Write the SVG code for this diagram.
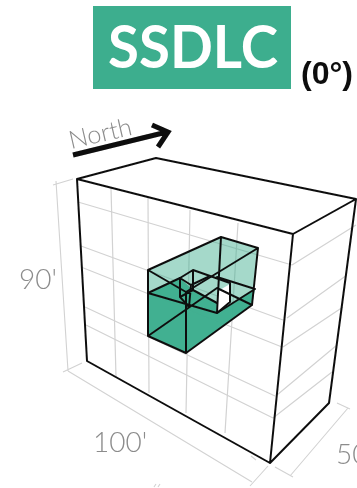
<svg xmlns="http://www.w3.org/2000/svg" width="357" height="488" viewBox="0 0 357 488">
<style>
.grid{fill:none;stroke:#d2d2d2;stroke-width:1.2}
.dim{fill:none;stroke:#d2d2d2;stroke-width:1.1}
.edge{fill:none;stroke:#111;stroke-width:2;stroke-linejoin:round;stroke-linecap:round}
.lab{font-family:"Lato","Open Sans",sans-serif;font-weight:300;fill:#8c8c8c}
</style>
<defs><filter id="soft" x="-5%" y="-5%" width="110%" height="110%"><feGaussianBlur stdDeviation="0.45"/></filter></defs>
<rect width="357" height="488" fill="#fff"/>
<g filter="url(#soft)">
<g id="title">
<rect x="93" y="6" width="198" height="83" fill="#3dae8e"/>
<text x="108" y="68" font-family="Lato,'Open Sans',sans-serif" font-size="59" font-weight="700" fill="#fff" textLength="170" lengthAdjust="spacingAndGlyphs">SSDLC</text>
<text x="301" y="84" font-family="'Liberation Sans',Arial,sans-serif" font-size="31" font-weight="700" fill="#111" textLength="52" lengthAdjust="spacingAndGlyphs">(0°)</text>
</g>
<g id="north">
<text class="lab" x="0" y="0" font-size="25" transform="translate(71,149) rotate(-13)" textLength="64" lengthAdjust="spacingAndGlyphs">North</text>
<path d="M73 155 L167 132 M152 125 L168 132 L158 147" fill="none" stroke="#0a0a0a" stroke-width="5" stroke-linejoin="miter"/>
</g>
<g id="grid">
<path class="grid" d="M111 188L116 377M148 198L149 393M190 210L186 413M238 223L225 433"/>
<path class="grid" d="M78 202L292 265M81 246L283 320M81 267L282 347M85 307L275 396M86 325L273 418"/>
<path class="grid" d="M292 265L356 225M287 318L347 275M283 347L343 307M277 395L337 345M273 418L332 372"/>
</g>
<g id="dimensions">
<path class="dim" d="M56 181L68 371M53 185L73 179M63 372L82 363"/>
<path class="dim" d="M68 371L252 482M250 486L268 466M251 456L256 460"/>
<path class="dim" d="M290 476L348 408M275 467L293 477M337 403L350 409"/>
<path class="dim" d="M154 487L156 484M158 487L160 484"/>
<text class="lab" x="19" y="289" font-size="28">90'</text>
<text class="lab" x="93" y="452" font-size="28">100'</text>
<text class="lab" x="336" y="464" font-size="28">50</text>
</g>
<g id="volume">
<path d="M148 270L221 237L258 248L252 305L186 353L148 336Z" fill="#3dae8e" fill-opacity=".47"/>
<path d="M148 293L180 278L193 290L217 303L217 313L255 289L252 305L186 353L148 336Z" fill="#3dae8e" fill-opacity=".95"/>
<path d="M218 291L230 284L229 303L218 311Z" fill="#fff"/>
</g>
<g id="connectors">
<path class="edge" d="M77 179L156 158L356 199L293 234L77 179M77 179L87 361L270 463L293 234M270 463L329 403L356 199"/>
<path class="edge" d="M148 270L221 237L258 248L186 292L148 270M148 270L148 336L186 353L186 292M221 237L217 313M148 336L217 288L252 305M186 353L252 305L258 248M148 293L180 278M148 293L217 313L255 289M217 277L255 289"/>
<path class="edge" d="M180 278L193 270L230 283L230 302L217 313M180 278L180 297L189 307M180 278L191 285L189 307M193 270L193 290L180 297M193 290L217 303M218 278L230 283M191 285L208 277"/>
</g>
</g>
</svg>
